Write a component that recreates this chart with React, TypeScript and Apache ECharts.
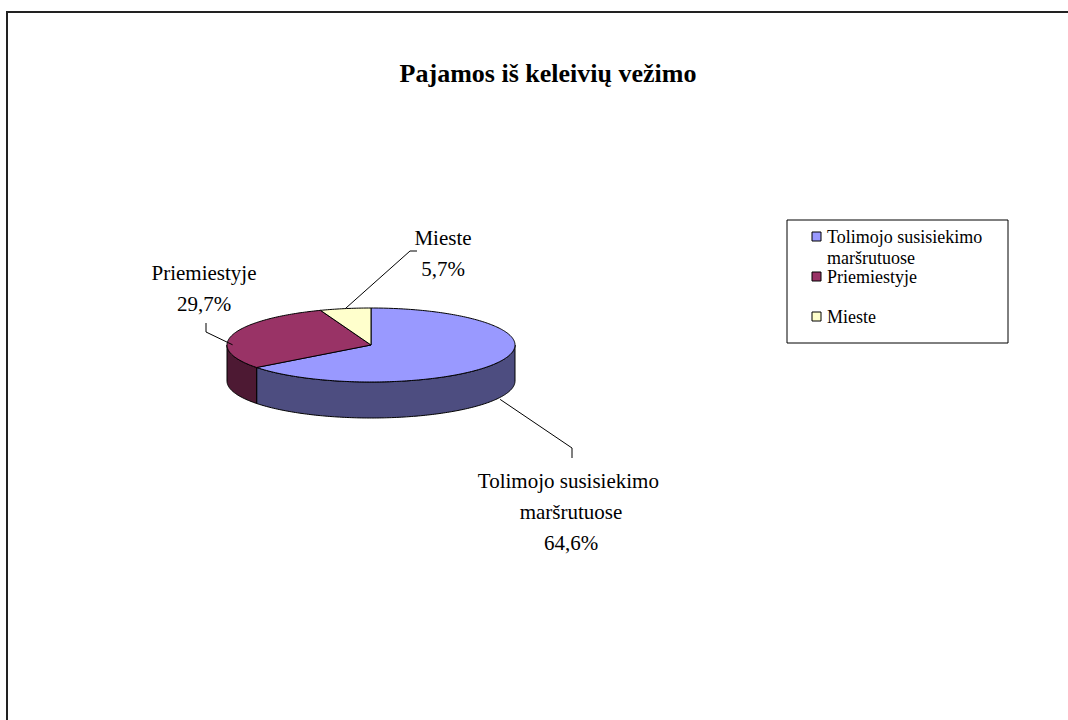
import React, { useEffect, useRef } from "react";
import * as echarts from "echarts";

const TITLE = "Pajamos iš keleivių vežimo";
const CATEGORIES = ["Tolimojo susisiekimo maršrutuose", "Priemiestyje", "Mieste"];
const VALUES = [64.6, 29.7, 5.7];
const TOP_COLORS = ["#9999FF", "#993366", "#FFFFCC"];
const SIDE_COLORS = ["#4D4D80", "#4D1933", "#80805F"];

// layout (pixels) of the 3D pie, labels and legend
const PIE = { cx: 371, cy: 345, rx: 144, ry: 37, depth: 36 };
const LABEL_LAYOUT = [
  { anchorDy: 38, elbow: [572, 448], end: [572, 458], text: [571, 465] },
  { anchorDy: 10, elbow: [206, 332], end: [206, 323], text: [204, 257] },
  { anchorDy: 0, elbow: [410, 251], end: [417, 251], text: [443, 222] },
];
const LEGEND_BOX = { x: 787, y: 220, w: 221, h: 123 };
const LEGEND_ROWS = [237, 277, 317];
const SERIF = "Liberation Serif";

const fmtPct = (v: number, total: number) =>
  (Math.round((v / total) * 1000) / 10).toFixed(1).replace(".", ",") + "%";

function pt(deg: number, dy = 0): number[] {
  const r = (deg * Math.PI) / 180;
  return [PIE.cx + PIE.rx * Math.sin(r), PIE.cy - PIE.ry * Math.cos(r) + dy];
}

function arc(a0: number, a1: number, dy = 0): number[][] {
  const pts: number[][] = [];
  const n = Math.max(2, Math.ceil(Math.abs(a1 - a0)));
  for (let i = 0; i <= n; i++) pts.push(pt(a0 + ((a1 - a0) * i) / n, dy));
  return pts;
}

export default function App() {
  const ref = useRef<HTMLDivElement>(null);
  useEffect(() => {
    if (!ref.current) return;
    const chart = echarts.init(ref.current, undefined, { renderer: "svg" });
    const total = VALUES.reduce((a, b) => a + b, 0);
    let cum = 0;
    const series = CATEGORIES.map((name, i) => {
      const a0 = (cum / total) * 360;
      cum += VALUES[i];
      const a1 = (cum / total) * 360;
      const lay = LABEL_LAYOUT[i];
      return {
        type: "custom",
        name,
        coordinateSystem: "none",
        data: [[VALUES[i]]],
        renderItem: () => {
          const children: any[] = [];
          const s = Math.max(a0, 90);
          const e = Math.min(a1, 270);
          if (e > s) {
            const pts = [...arc(s, e, 0), ...arc(e, s, PIE.depth)];
            children.push({
              type: "polygon",
              shape: { points: pts },
              style: { fill: SIDE_COLORS[i], stroke: "#000", lineWidth: 1 },
            });
          }
          children.push({
            type: "polygon",
            shape: { points: [[PIE.cx, PIE.cy], ...arc(a0, a1, 0)] },
            style: { fill: TOP_COLORS[i], stroke: "#000", lineWidth: 1 },
          });
          const mid = (a0 + a1) / 2;
          const anchor = pt(mid, lay.anchorDy);
          children.push({
            type: "polyline",
            shape: { points: [anchor, lay.elbow, lay.end] },
            style: { stroke: "#000", lineWidth: 1, fill: null },
          });
          children.push({
            type: "text",
            x: lay.text[0],
            y: lay.text[1],
            style: {
              text: name + "\n" + fmtPct(VALUES[i], total),
              font: "21px " + SERIF,
              fontFamily: SERIF,
              fontSize: 21,
              lineHeight: 31,
              fill: "#000",
              align: "center",
              verticalAlign: "top",
              width: 200,
              overflow: "break",
            },
          });
          return { type: "group", children };
        },
      };
    });

    const legendEls: any[] = [
      {
        type: "rect",
        shape: { x: LEGEND_BOX.x, y: LEGEND_BOX.y, width: LEGEND_BOX.w, height: LEGEND_BOX.h },
        style: { fill: "#fff", stroke: "#000", lineWidth: 1 },
      },
    ];
    CATEGORIES.forEach((name, i) => {
      const cy = LEGEND_ROWS[i];
      legendEls.push({
        type: "rect",
        shape: { x: 812, y: cy - 5, width: 9, height: 9 },
        style: { fill: TOP_COLORS[i], stroke: "#000", lineWidth: 1 },
      });
      legendEls.push({
        type: "text",
        x: 827,
        y: cy - 10.5,
        style: {
          text: name,
          font: "18px " + SERIF,
          fontFamily: SERIF,
          fontSize: 18,
          lineHeight: 21,
          fill: "#000",
          align: "left",
          verticalAlign: "top",
          width: 178,
          overflow: "break",
        },
      });
    });

    chart.setOption({
      animation: false,
      backgroundColor: "#fff",
      title: {
        text: TITLE,
        left: 543,
        textAlign: "center",
        top: 55,
        textStyle: { fontFamily: SERIF, fontWeight: "bold", fontSize: 26, color: "#000" },
      },
      graphic: [
        {
          type: "rect",
          shape: { x: 7, y: 12, width: 1200, height: 900 },
          style: { fill: "none", stroke: "#222", lineWidth: 2 },
          z: 0,
        },
        ...legendEls,
      ],
      series,
    });
    return () => chart.dispose();
  }, []);
  return (
    <div
      ref={ref}
      style={{ position: "fixed", left: 0, top: 0, width: 1068, height: 720, background: "#fff" }}
    />
  );
}
